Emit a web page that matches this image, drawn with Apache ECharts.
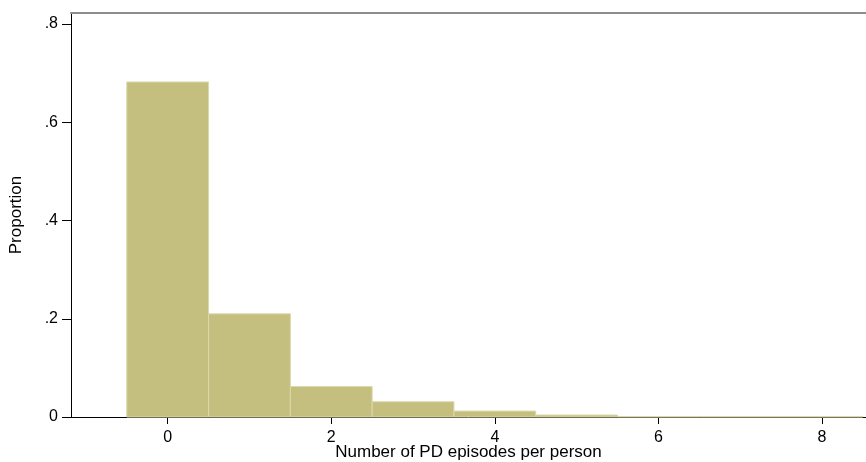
<!DOCTYPE html>
<html>
<head>
<meta charset="utf-8">
<script src="https://cdn.jsdelivr.net/npm/echarts@6/dist/echarts.min.js"></script>
<style>
html,body{margin:0;padding:0;background:#fff;overflow:hidden;}
#chart{width:866px;height:462px;}
</style>
</head>
<body>
<div id="chart"></div>
<script>
var episodes = [0, 1, 2, 3, 4, 5, 6, 7, 8];
var proportions = [0.682, 0.210, 0.062, 0.031, 0.012, 0.004, 0.0008, 0.0008, 0.0008];
var xTicks = [0, 2, 4, 6, 8];
var yTicks = [0, 0.2, 0.4, 0.6, 0.8];
var xTitle = 'Number of PD episodes per person';
var yTitle = 'Proportion';

var data = episodes.map(function (e, i) { return [e, proportions[i]]; });
var font = 'Liberation Sans, Arial, sans-serif';

var chart = echarts.init(document.getElementById('chart'), null, {renderer: 'canvas', width: 866, height: 462});
chart.setOption({
  animation: false,
  backgroundColor: '#ffffff',
  grid: {left: 71, width: 795, top: 13, height: 404, containLabel: false, outerBoundsMode: 'none'},
  xAxis: [{
    type: 'value',
    min: -1.182,
    max: 8.538,
    name: xTitle,
    nameLocation: 'middle',
    nameGap: 27,
    nameMoveOverlap: false,
    nameTextStyle: {fontFamily: font, fontSize: 17, color: '#000'},
    axisLine: {show: true, onZero: false, lineStyle: {color: '#000', width: 1}},
    axisTick: {show: true, length: 7, customValues: xTicks, lineStyle: {color: '#000'}},
    axisLabel: {customValues: xTicks, margin: 13, fontFamily: font, fontSize: 16, color: '#000'},
    splitLine: {show: false}
  }, {
    type: 'value',
    position: 'top',
    min: -1.182,
    max: 8.538,
    axisLine: {show: true, onZero: false, lineStyle: {color: '#8c8c8c', width: 2}},
    axisTick: {show: false},
    axisLabel: {show: false},
    splitLine: {show: false}
  }],
  yAxis: {
    type: 'value',
    min: 0,
    max: 0.8224,
    name: yTitle,
    nameLocation: 'middle',
    nameGap: 46,
    nameMoveOverlap: false,
    nameTextStyle: {fontFamily: font, fontSize: 17, color: '#000'},
    axisLine: {show: true, onZero: false, lineStyle: {color: '#000', width: 1}},
    axisTick: {show: true, length: 9, customValues: yTicks, lineStyle: {color: '#000'}},
    axisLabel: {
      customValues: yTicks, margin: 13, fontFamily: font, fontSize: 16, color: '#000',
      formatter: function (v) {
        if (v === 0) return '0';
        return String(Math.round(v * 10) / 10).replace(/^0/, '');
      }
    },
    splitLine: {show: false}
  },
  series: [{
    type: 'custom',
    xAxisIndex: 0,
    data: data,
    renderItem: function (params, api) {
      var x = api.value(0), y = api.value(1);
      var p0 = api.coord([x - 0.5, y]);
      var p1 = api.coord([x + 0.5, 0]);
      return {
        type: 'rect',
        shape: {x: p0[0], y: p0[1], width: p1[0] - p0[0], height: p1[1] - p0[1]},
        style: {fill: '#c4bf7f', stroke: '#dbd8aa', lineWidth: 1}
      };
    }
  }]
});
</script>
</body>
</html>
